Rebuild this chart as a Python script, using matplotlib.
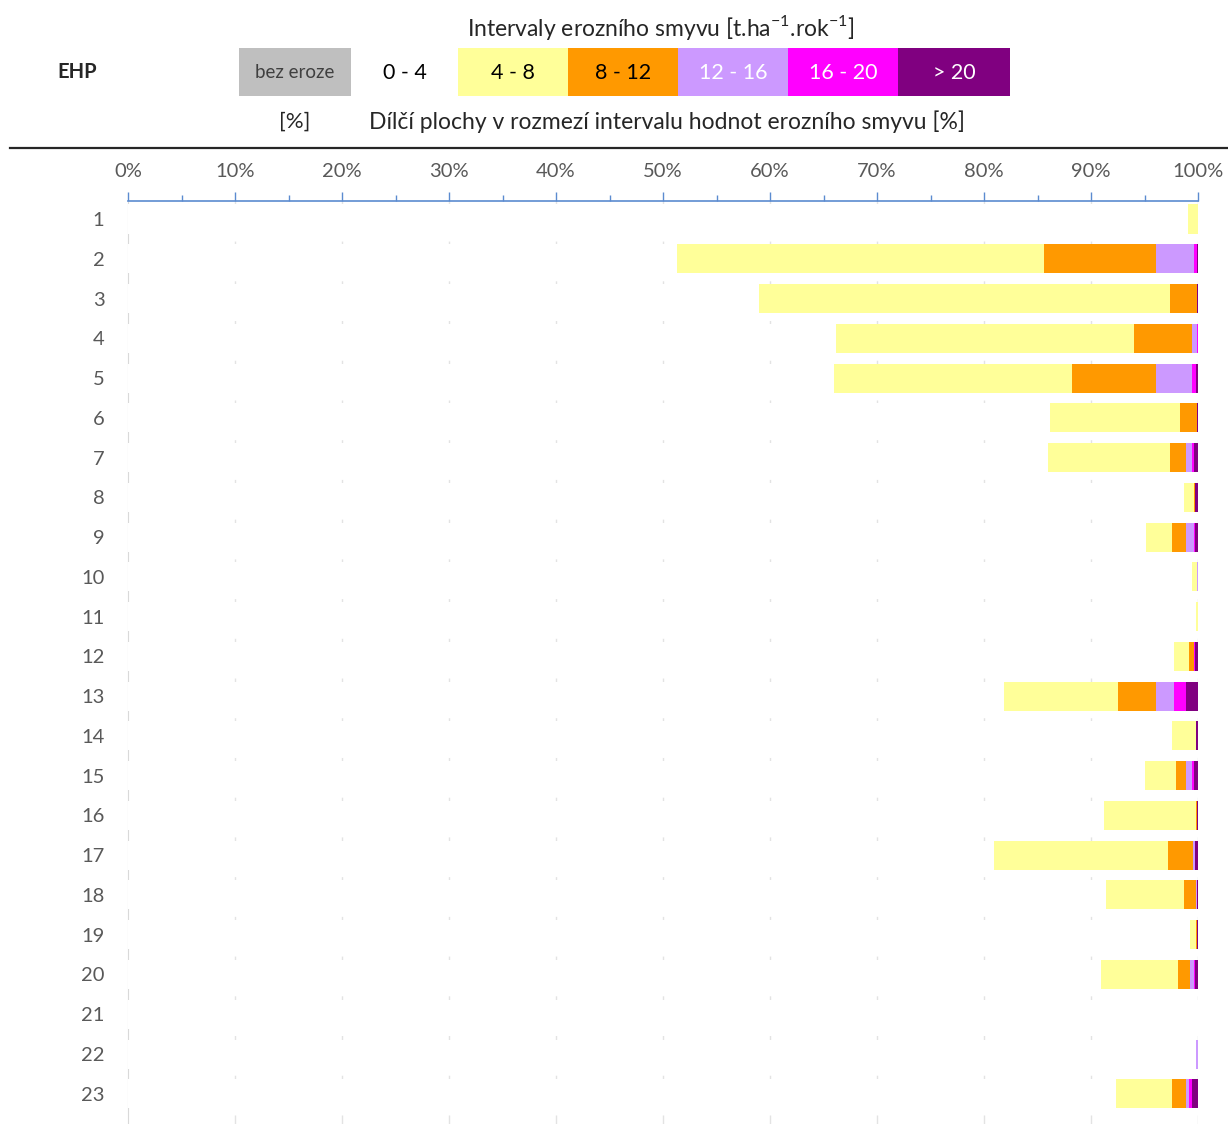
import numpy as np
import matplotlib
matplotlib.use('Agg')
from matplotlib import pyplot as plt
from matplotlib.patches import Rectangle
from matplotlib.lines import Line2D
from matplotlib.ticker import MultipleLocator, FuncFormatter

plt.rcParams['font.family'] = ['Lato', 'DejaVu Sans']

# EHP ids and shares (%) of each erosion interval
ehp = [str(i) for i in range(1, 24)]
int_0_4 = [99.1, 51.3, 59.0, 66.2, 66.0, 86.2, 86.0, 98.7, 95.1, 99.4, 99.8, 97.8,
           81.9, 97.6, 95.0, 91.2, 80.9, 91.4, 99.25, 90.9, 100.0, 99.85, 92.3]
int_4_8 = [0.9, 34.3, 38.4, 27.8, 22.2, 12.1, 11.4, 0.95, 2.5, 0.55, 0.2, 1.4,
           10.6, 2.2, 2.9, 8.6, 16.3, 7.3, 0.55, 7.2, 0.0, 0.0, 5.3]
int_8_12 = [0.0, 10.5, 2.5, 5.4, 7.9, 1.6, 1.5, 0.1, 1.3, 0.0, 0.0, 0.4,
            3.6, 0.0, 1.0, 0.1, 2.3, 1.15, 0.1, 1.15, 0.0, 0.0, 1.3]
int_12_16 = [0.0, 3.5, 0.05, 0.5, 3.3, 0.05, 0.5, 0.0, 0.7, 0.05, 0.0, 0.0,
             1.7, 0.05, 0.5, 0.0, 0.25, 0.05, 0.0, 0.35, 0.0, 0.15, 0.3]
int_16_20 = [0.0, 0.35, 0.0, 0.1, 0.4, 0.0, 0.2, 0.0, 0.1, 0.0, 0.0, 0.15,
             1.1, 0.0, 0.2, 0.0, 0.0, 0.0, 0.0, 0.15, 0.0, 0.0, 0.2]
int_20 = [0.0, 0.05, 0.05, 0.0, 0.2, 0.05, 0.4, 0.25, 0.3, 0.0, 0.0, 0.25,
          1.1, 0.15, 0.4, 0.1, 0.25, 0.1, 0.1, 0.25, 0.0, 0.0, 0.6]

series = [int_0_4, int_4_8, int_8_12, int_12_16, int_16_20, int_20]
colors = ['#FFFFFF', '#FFFF99', '#FF9900', '#CC99FF', '#FF00FF', '#800080']

legend_labels = ['bez eroze', '0 - 4', '4 - 8', '8 - 12', '12 - 16', '16 - 20', '> 20']
legend_colors = ['#BFBFBF', '#FFFFFF', '#FFFF99', '#FF9900', '#CC99FF', '#FF00FF', '#800080']
legend_text = ['#404040', 'black', 'black', 'black', 'white', 'white', 'white']

W, H = 1228, 1124
fig = plt.figure(figsize=(W / 100, H / 100), dpi=100)

def fx(x):
    return x / W

def fy(y):
    return 1 - y / H

# header
fig.text(fx(661), fy(27), 'Intervaly erozního smyvu [t.ha$^{\\mathregular{-1}}$.rok$^{\\mathregular{-1}}$]',
         ha='center', va='center', fontsize=16.5, color='#262626')
fig.text(fx(77), fy(72), 'EHP', ha='center', va='center', fontsize=14.5, fontweight='bold', color='#262626')

edges = [239, 351, 458, 568, 678, 788, 898, 1010]
for i in range(len(legend_labels)):
    x0, x1 = edges[i], edges[i + 1]
    fig.patches.append(Rectangle((fx(x0), fy(96)), fx(x1) - fx(x0), fy(48) - fy(96),
                                 transform=fig.transFigure, facecolor=legend_colors[i],
                                 edgecolor='none'))
    fs = 13.5 if i == 0 else 15.5
    fig.text(fx((x0 + x1) / 2), fy(73), legend_labels[i], ha='center', va='center',
             fontsize=fs, color=legend_text[i])

fig.text(fx(295), fy(122), '[%]', ha='center', va='center', fontsize=16, color='#262626')
fig.text(fx(667), fy(122), 'Dílčí plochy v rozmezí intervalu hodnot erozního smyvu [%]',
         ha='center', va='center', fontsize=16.5, color='#262626')

fig.add_artist(Line2D([fx(10), fx(1228)], [fy(148), fy(148)], transform=fig.transFigure,
                      color='#262626', linewidth=1.6))

# chart
ax = fig.add_axes([fx(128), 0, fx(1198) - fx(128), fy(201)])
y = np.arange(1, len(ehp) + 1)
left = np.zeros(len(ehp))
for vals, c in zip(series, colors):
    vals = np.array(vals)
    ax.barh(y, vals, left=left, height=0.73, color=c, edgecolor='none', zorder=3)
    left += vals

ax.set_xlim(0, 100)
ax.set_ylim(23.76, 0.547)
ax.set_yticks(y)
ax.set_yticklabels(ehp)
ax.xaxis.set_major_locator(MultipleLocator(10))
ax.xaxis.set_minor_locator(MultipleLocator(5))
ax.xaxis.set_major_formatter(FuncFormatter(lambda v, p: '%d%%' % v))
ax.xaxis.tick_top()
ax.tick_params(axis='x', which='major', direction='out', length=6.5, width=1, color='#5B8BD0',
               labelsize=14.5, labelcolor='#595959', pad=8.5)
ax.tick_params(axis='x', which='minor', direction='out', length=4.3, width=1, color='#5B8BD0')
ax.tick_params(axis='y', length=0, labelsize=14.5, labelcolor='#595959', pad=17)
for lab in ax.get_yticklabels():
    lab.set_horizontalalignment('right')

for g in range(10, 101, 10):
    ax.axvline(g, color='#E3E3E3', linewidth=1, dashes=(6.5, 22.1), zorder=1)

ax.spines['top'].set_color('#5B8BD0')
ax.spines['top'].set_linewidth(1.2)
ax.spines['left'].set_color('#D9D9D9')
ax.spines['right'].set_visible(False)
ax.spines['bottom'].set_visible(False)

plt.savefig('out.png', dpi=100)
